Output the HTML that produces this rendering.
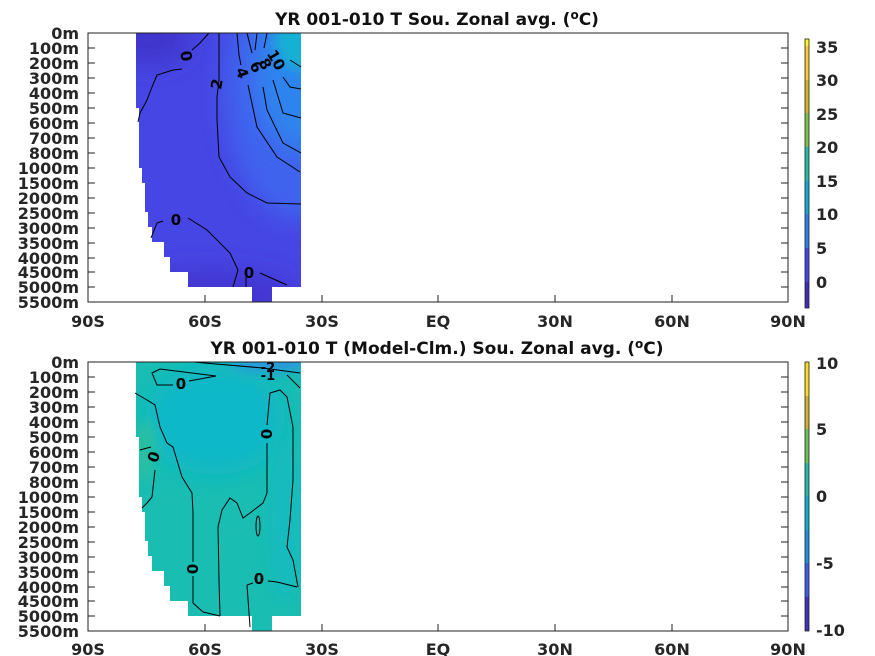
<!DOCTYPE html>
<html><head><meta charset="utf-8"><style>
body{margin:0;background:#fff;}
svg{display:block;font-family:"DejaVu Sans","Liberation Sans",sans-serif;font-weight:bold;}
</style></head><body>
<svg width="875" height="656" viewBox="0 0 875 656" xmlns="http://www.w3.org/2000/svg">
<defs>
<filter id="bl" x="-50%" y="-50%" width="200%" height="200%"><feGaussianBlur stdDeviation="12"/></filter>
<filter id="bl2" x="-50%" y="-50%" width="200%" height="200%"><feGaussianBlur stdDeviation="6"/></filter>
<clipPath id="c1"><path d="M136,33H301V287H272V302H252V287H188V272H170V257H164V242H152V227H148V212H145V183H142V168H139V108H136Z"/></clipPath>
<clipPath id="c2"><path d="M136,362H301V616H272V631H252V616H188V601H170V586H164V571H152V556H148V541H145V512H142V497H139V437H136Z"/></clipPath>
</defs>
<rect width="875" height="656" fill="#fff"/>
<!-- TOP -->
<text x="437" y="25" text-anchor="middle" font-size="17" fill="#111">YR 001-010 T Sou. Zonal avg. (<tspan dy="-6" font-size="12">o</tspan><tspan dy="6">C)</tspan></text>
<g clip-path="url(#c1)">
<rect x="130" y="30" width="180" height="280" fill="#4646e4"/>
<ellipse cx="150" cy="40" rx="40" ry="25" fill="#4034cc" filter="url(#bl)"/>
<ellipse cx="210" cy="295" rx="90" ry="25" fill="#4236d0" filter="url(#bl)"/>
<ellipse cx="300" cy="90" rx="75" ry="130" fill="#3f63ee" filter="url(#bl)"/>
<ellipse cx="300" cy="70" rx="45" ry="80" fill="#2f84ee" filter="url(#bl)"/>
<ellipse cx="300" cy="40" rx="25" ry="30" fill="#12b0d4" filter="url(#bl2)"/>
</g>
<g fill="none" stroke="#000" stroke-width="1">
<polyline points="219,33 219,80 217,97 217,120 219,157 230,177 247,193 267,203 301,204"/>
<polyline points="209,33 200,43 192,50"/><polyline points="182,69 173,70 157,75 152,87 147,100 140,113 138,122"/>
<polyline points="237,33 239,55 241,65"/>
<polyline points="248,85 257,127 277,157 300,172"/>
<polyline points="263,87 267,110 283,143 301,153"/>
<polyline points="273,80 283,113 301,118"/>
<polyline points="283,77 290,87 301,89"/>
<polyline points="290,60 301,67"/>
<polyline points="247,33 252,53"/><polyline points="257,33 255,50"/><polyline points="267,33 264,48"/>
<polyline points="188,218 207,230 230,253 238,270 233,287"/>
<polyline points="151,238 157,223 163,221"/>
<polyline points="260,273 287,285"/><polyline points="246,277 246,287"/>
</g>
<g font-size="15" fill="#000" text-anchor="middle">
<text transform="translate(186,56) rotate(80)" y="5">0</text>
<text transform="translate(217,84) rotate(-80)" y="5">2</text>
<text transform="translate(242,73) rotate(70)" y="5">4</text>
<text transform="translate(256,67) rotate(60)" y="5">6</text>
<text transform="translate(265,64) rotate(60)" y="5">8</text>
<text transform="translate(276,60) rotate(60)" y="5">10</text>
<text x="176" y="225">0</text>
<text x="249" y="278">0</text>
</g>
<rect x="88" y="33" width="700" height="269" fill="none" stroke="#222" stroke-width="1"/>
<g stroke="#222" stroke-width="1">
<path d="M88,48h7M88,63h7M88,78h7M88,93h7M88,108h7M88,123h7M88,138h7M88,153h7M88,168h7M88,183h7M88,198h7M88,213h7M88,228h7M88,243h7M88,258h7M88,272h7M88,287h7"/>
<path d="M788,48h-7M788,63h-7M788,78h-7M788,93h-7M788,108h-7M788,123h-7M788,138h-7M788,153h-7M788,168h-7M788,183h-7M788,198h-7M788,213h-7M788,228h-7M788,243h-7M788,258h-7M788,272h-7M788,287h-7"/>
<path d="M205,302v-7M322,302v-7M438,302v-7M555,302v-7M672,302v-7"/>
</g>
<g font-size="16" fill="#262626" text-anchor="end">
<text x="79" y="39">0m</text><text x="79" y="54">100m</text><text x="79" y="69">200m</text><text x="79" y="84">300m</text><text x="79" y="99">400m</text><text x="79" y="114">500m</text><text x="79" y="129">600m</text><text x="79" y="144">700m</text><text x="79" y="159">800m</text><text x="79" y="174">1000m</text><text x="79" y="189">1500m</text><text x="79" y="204">2000m</text><text x="79" y="219">2500m</text><text x="79" y="234">3000m</text><text x="79" y="249">3500m</text><text x="79" y="264">4000m</text><text x="79" y="278">4500m</text><text x="79" y="293">5000m</text><text x="79" y="308">5500m</text>
</g>
<g font-size="16" fill="#262626" text-anchor="middle">
<text x="88" y="327">90S</text><text x="205" y="327">60S</text><text x="322" y="327">30S</text><text x="438" y="327">EQ</text><text x="555" y="327">30N</text><text x="672" y="327">60N</text><text x="788" y="327">90N</text>
</g>
<!-- colorbar 1 -->
<g>
<rect x="805" y="282" width="4" height="26" fill="#3d2db8"/>
<rect x="805" y="248" width="4" height="34" fill="#4444e2"/>
<rect x="805" y="214" width="4" height="34" fill="#2f7af0"/>
<rect x="805" y="181" width="4" height="33" fill="#12a8d6"/>
<rect x="805" y="147" width="4" height="34" fill="#24bca2"/>
<rect x="805" y="113" width="4" height="34" fill="#7cc24a"/>
<rect x="805" y="80" width="4" height="33" fill="#d2b42c"/>
<rect x="805" y="46" width="4" height="34" fill="#fcc834"/>
<rect x="805" y="39" width="4" height="7" fill="#f8f818"/>
<rect x="805" y="39" width="4" height="269" fill="none" stroke="#222" stroke-width="0.8"/>
</g>
<g font-size="16" fill="#262626">
<text x="816" y="53">35</text><text x="816" y="86">30</text><text x="816" y="120">25</text><text x="816" y="153">20</text><text x="816" y="187">15</text><text x="816" y="220">10</text><text x="816" y="254">5</text><text x="816" y="288">0</text>
</g>

<!-- BOTTOM -->
<text x="437" y="354" text-anchor="middle" font-size="17" fill="#111">YR 001-010 T (Model-Clm.) Sou. Zonal avg. (<tspan dy="-6" font-size="12">o</tspan><tspan dy="6">C)</tspan></text>
<g clip-path="url(#c2)">
<rect x="130" y="360" width="180" height="280" fill="#19bdb2"/>
<ellipse cx="215" cy="420" rx="70" ry="55" fill="#0db8c8" filter="url(#bl)"/>
<ellipse cx="285" cy="520" rx="18" ry="80" fill="#14bbbd" filter="url(#bl2)"/>
<ellipse cx="270" cy="362" rx="40" ry="10" fill="#2a96e0" filter="url(#bl2)"/>
<ellipse cx="145" cy="450" rx="10" ry="30" fill="#2ac0a0" filter="url(#bl2)"/>
</g>
<g fill="none" stroke="#000" stroke-width="1">
<polyline points="193,362 263,368 300,373"/>
<polyline points="216,376 160,369 152,373 157,385 173,385"/><polyline points="189,381 216,376"/>
<polyline points="135,393 147,400 155,405 160,427 167,443 173,447 182,477 192,493 193,513 193,562"/>
<polyline points="193,576 193,603 203,612 220,616"/>
<polyline points="151,447 140,450"/>
<polyline points="155,470 152,497 147,503 142,508"/>
<polyline points="220,616 219,580 218,527 222,510 230,498 237,503 243,518 250,513 263,503 267,493 267,443"/>
<polyline points="267,425 270,393 280,390 287,397 293,427 293,480 290,520 287,547 293,560 298,587"/>
<polyline points="247,585 253,583"/><polyline points="268,581 277,582 297,587"/>
<polyline points="247,585 250,627"/>
<polyline points="287,375 300,388"/>
<ellipse cx="258" cy="526" rx="2" ry="10"/>
</g>
<g font-size="15" fill="#000" text-anchor="middle">
<text x="181" y="389">0</text>
<text transform="translate(154,457) rotate(-70)" y="5">0</text>
<text transform="translate(266,434) rotate(90)" y="5">0</text>
<text transform="translate(192,569) rotate(90)" y="5">0</text>
<text x="259" y="584">0</text>
<text x="268" y="372" font-size="13">-2</text>
<text x="268" y="380" font-size="13">-1</text>
</g>
<rect x="88" y="362" width="700" height="269" fill="none" stroke="#222" stroke-width="1"/>
<g stroke="#222" stroke-width="1" transform="translate(0,329)">
<path d="M88,48h7M88,63h7M88,78h7M88,93h7M88,108h7M88,123h7M88,138h7M88,153h7M88,168h7M88,183h7M88,198h7M88,213h7M88,228h7M88,243h7M88,258h7M88,272h7M88,287h7"/>
<path d="M788,48h-7M788,63h-7M788,78h-7M788,93h-7M788,108h-7M788,123h-7M788,138h-7M788,153h-7M788,168h-7M788,183h-7M788,198h-7M788,213h-7M788,228h-7M788,243h-7M788,258h-7M788,272h-7M788,287h-7"/>
<path d="M205,302v-7M322,302v-7M438,302v-7M555,302v-7M672,302v-7"/>
</g>
<g font-size="16" fill="#262626" text-anchor="end" transform="translate(0,329)">
<text x="79" y="39">0m</text><text x="79" y="54">100m</text><text x="79" y="69">200m</text><text x="79" y="84">300m</text><text x="79" y="99">400m</text><text x="79" y="114">500m</text><text x="79" y="129">600m</text><text x="79" y="144">700m</text><text x="79" y="159">800m</text><text x="79" y="174">1000m</text><text x="79" y="189">1500m</text><text x="79" y="204">2000m</text><text x="79" y="219">2500m</text><text x="79" y="234">3000m</text><text x="79" y="249">3500m</text><text x="79" y="264">4000m</text><text x="79" y="278">4500m</text><text x="79" y="293">5000m</text><text x="79" y="308">5500m</text>
</g>
<g font-size="16" fill="#262626" text-anchor="middle">
<text x="88" y="655">90S</text><text x="205" y="655">60S</text><text x="322" y="655">30S</text><text x="438" y="655">EQ</text><text x="555" y="655">30N</text><text x="672" y="655">60N</text><text x="788" y="655">90N</text>
</g>
<!-- colorbar 2 -->
<g>
<rect x="805" y="597" width="4" height="34" fill="#3e30c0"/>
<rect x="805" y="563" width="4" height="34" fill="#3a5ae8"/>
<rect x="805" y="530" width="4" height="33" fill="#1c90e4"/>
<rect x="805" y="496" width="4" height="34" fill="#0cb0cc"/>
<rect x="805" y="463" width="4" height="33" fill="#24bca6"/>
<rect x="805" y="429" width="4" height="34" fill="#6cc058"/>
<rect x="805" y="396" width="4" height="33" fill="#d0b430"/>
<rect x="805" y="362" width="4" height="34" fill="#f8dc24"/>
<rect x="805" y="362" width="4" height="269" fill="none" stroke="#222" stroke-width="0.8"/>
</g>
<g font-size="16" fill="#262626">
<text x="816" y="369">10</text><text x="816" y="435">5</text><text x="816" y="502">0</text><text x="816" y="569">-5</text><text x="816" y="636">-10</text>
</g>
</svg>
</body></html>
